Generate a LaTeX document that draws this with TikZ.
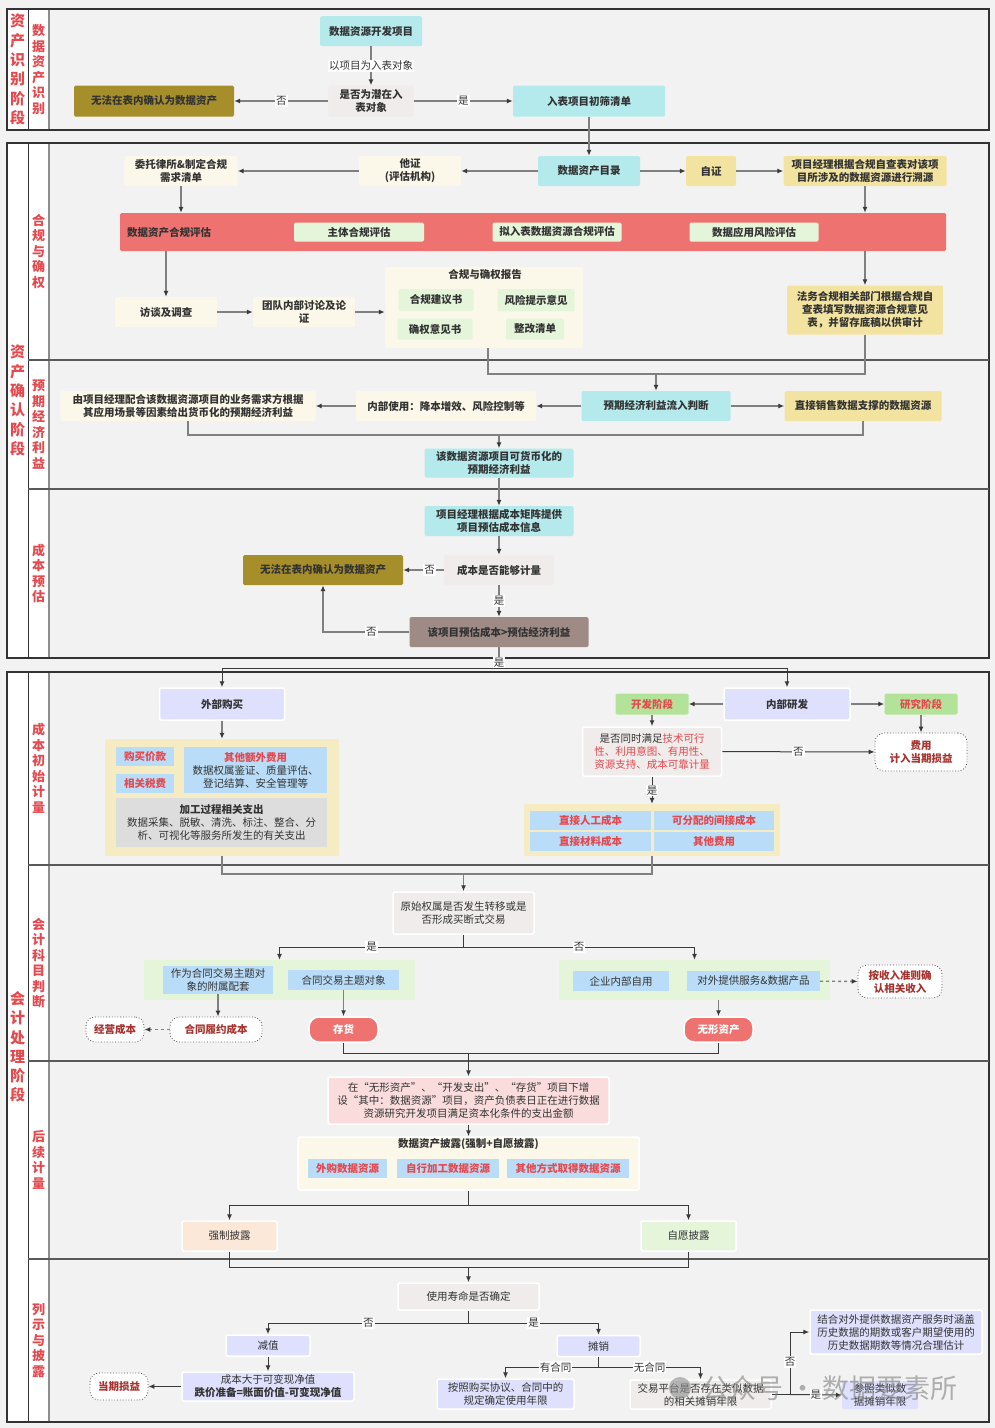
\documentclass[tikz,border=0pt]{standalone}
\usepackage{fontspec}
\setmainfont{Noto Sans CJK SC}
\usetikzlibrary{positioning,calc,arrows.meta}
\definecolor{BgGray}{HTML}{F2F2F2}
\definecolor{FrameDark}{HTML}{333333}
\definecolor{FrameGray}{HTML}{8C8C8C}
\definecolor{LaneLine}{HTML}{5A5A5A}
\definecolor{LaneRed}{HTML}{E5484D}
\definecolor{TxtDark}{HTML}{333333}
\definecolor{DarkRed}{HTML}{A8322D}
\definecolor{CyanBox}{HTML}{B4EAEC}
\definecolor{OliveBox}{HTML}{A68F2A}
\definecolor{DecBox}{HTML}{EFECEB}
\definecolor{CoralBox}{HTML}{EE7370}
\definecolor{GreenBox}{HTML}{E4F5DA}
\definecolor{CreamBox}{HTML}{FBF8EA}
\definecolor{YellowBox}{HTML}{F2E3A0}
\definecolor{TaupeBox}{HTML}{9E8B86}
\definecolor{LavBox}{HTML}{DEE0FD}
\definecolor{StageBox}{HTML}{B3E398}
\definecolor{CtnBox}{HTML}{F6ECC3}
\definecolor{BlueBox}{HTML}{B9DDF8}
\definecolor{GrayBox}{HTML}{DDDDDD}
\definecolor{PinkBox}{HTML}{FADCDC}
\definecolor{PeachBox}{HTML}{FBE8D8}
\definecolor{ArrGray}{HTML}{808080}
\definecolor{TipDark}{HTML}{3A3A3A}
\newcommand\ftxt{\fontsize{10.5}{13}\selectfont}
\newcommand\fbold{\fontsize{10.5}{13}\selectfont\bfseries}
\tikzset{bx/.style={rectangle,rounded corners=1.5pt,align=center,inner sep=2pt,text=TxtDark,font=\ftxt},
 sz/.style 2 args={minimum width=#1pt,minimum height=#2pt},
 wb/.style={draw=white,line width=1.5pt},
 bb/.style={font=\fbold},
 redtx/.style={text=LaneRed,font=\fbold},
 dotbx/.style={bx,rounded corners=9pt,fill=white,draw=black!70,dotted,line width=0.8pt,text=DarkRed,font=\fbold},
 pill/.style={bx,rounded corners=10pt,fill=CoralBox,draw=white,line width=1.5pt,text=white,font=\fbold},
 lbl/.style={fill=white,inner sep=1pt,text=TxtDark,font=\ftxt},
 ln/.style={draw=ArrGray,line width=1.4pt},
 arr/.style={ln,-{Latex[length=6pt,width=5pt,color=TipDark]}},
 lnd/.style={draw=TipDark,line width=1pt},
 arrd/.style={lnd,-{Latex[length=6pt,width=5pt,color=TipDark]}},
 stagelbl/.style={align=center,inner sep=0pt,text=LaneRed,font=\fontsize{15}{19.3}\selectfont\bfseries},
 lanelbl/.style={align=center,inner sep=0pt,text=LaneRed,font=\fontsize{13}{15.5}\selectfont\bfseries}}

\begin{document}
\begin{tikzpicture}[x=1pt,y=-1pt]
\fill[BgGray] (0,0) rectangle (995,1428);
\useasboundingbox (0,0) rectangle (995,1428);
% frames and lanes
\fill[white] (7,9) rectangle (49,130);
\fill[white] (7,143) rectangle (49,658);
\fill[white] (7,672) rectangle (49,1422);
\foreach \ya/\yb in {9/130,143/658,672/1422}{
  \draw[FrameDark,line width=1pt] (28,\ya) -- (28,\yb);
  \draw[FrameGray,line width=2pt] (49,\ya) -- (49,\yb);
  \draw[FrameDark,line width=2.2pt] (7,\ya) rectangle (989,\yb);
}
\foreach \y in {360,489,865,1061,1259}
  \draw[LaneLine,line width=2pt] (28,\y) -- (989,\y);
\node[stagelbl] (st1) at (17.5,69.5) {资\\产\\识\\别\\阶\\段};
\node[stagelbl] (st2) at (17.5,400.5) {资\\产\\确\\认\\阶\\段};
\node[stagelbl] (st3) at (17.5,1047) {会\\计\\处\\理\\阶\\段};
\node[lanelbl] (ln1) at (38.5,69.5) {数\\据\\资\\产\\识\\别};
\node[lanelbl] (ln2) at (38.5,251.5) {合\\规\\与\\确\\权};
\node[lanelbl] (ln3) at (38.5,424.5) {预\\期\\经\\济\\利\\益};
\node[lanelbl] (ln4) at (38.5,573.5) {成\\本\\预\\估};
\node[lanelbl] (ln5) at (38.5,768.5) {成\\本\\初\\始\\计\\量};
\node[lanelbl] (ln6) at (38.5,963) {会\\计\\科\\目\\判\\断};
\node[lanelbl] (ln7) at (38.5,1160) {后\\续\\计\\量};
\node[lanelbl] (ln8) at (38.5,1340.5) {列\\示\\与\\披\\露};

% identification
\node[bx,bb,fill=CyanBox,sz={102}{30}] (proj) at (371,31) {数据资源开发项目};
\node[bx,bb,fill=DecBox,sz={85}{31}] (pot) at (371,101) {是否为潜在入\\表对象};
\node[bx,bb,fill=OliveBox,sz={160}{31}] (no1) at (154,101) {无法在表内确认为数据资产};
\node[bx,bb,fill=CyanBox,sz={152}{31}] (init) at (589,101) {入表项目初筛清单};
\draw[arr] (proj) -- node[lbl]{以项目为入表对象} (pot);
\draw[arr] (pot) -- node[lbl]{否} (no1);
\draw[arr] (pot) -- node[lbl]{是} (init);

% compliance
\node[bx,bb,fill=CyanBox,sz={102}{30}] (cat) at (589,171) {数据资产目录};
\node[bx,bb,fill=YellowBox,sz={50}{30}] (self) at (711,171) {自证};
\node[bx,bb,fill=YellowBox,sz={163}{30}] (pm) at (865,171) {项目经理根据合规自查表对该项\\目所涉及的数据资源进行溯源};
\node[bx,bb,fill=CreamBox,sz={102}{30}] (other) at (410,171) {他证\\(评估机构)};
\node[bx,bb,fill=CreamBox,sz={113}{30}] (law) at (181,171) {委托律所\&制定合规\\需求清单};
\node[bx,fill=CoralBox,sz={826}{38}] (cmp) at (533,232) {};
\node[bx,bb,anchor=west,inner sep=0pt] (cmpt) at (127,233) {数据资产合规评估};
\node[bx,bb,fill=GreenBox,sz={130}{19}] (c1) at (359,232) {主体合规评估};
\node[bx,bb,fill=GreenBox,sz={129}{19}] (c2) at (557,232) {拟入表数据资源合规评估};
\node[bx,bb,fill=GreenBox,sz={129}{19}] (c3) at (754,232) {数据应用风险评估};
\node[bx,bb,fill=CreamBox,sz={102}{30}] (intv) at (166,312) {访谈及调查};
\node[bx,bb,fill=CreamBox,sz={102}{30}] (team) at (304,312) {团队内部讨论及论\\证};
\node[bx,fill=CreamBox,sz={198}{81}] (rpt) at (484,307.5) {};
\node[bx,bb,inner sep=0pt] (rptt) at (485,274) {合规与确权报告};
\node[bx,bb,fill=GreenBox,sz={75}{22}] (r1) at (436,300) {合规建议书};
\node[bx,bb,fill=GreenBox,sz={77}{22}] (r2) at (536,300) {风险提示意见};
\node[bx,bb,fill=GreenBox,sz={75}{21}] (r3) at (435,329) {确权意见书};
\node[bx,bb,fill=GreenBox,sz={58}{21}] (r4) at (535,329) {整改清单};
\node[bx,bb,fill=YellowBox,sz={156}{49}] (fw) at (865,310) {法务合规相关部门根据合规自\\查表填写数据资源合规意见\\表，并留存底稿以供审计};
\draw[arr] (init) -- (cat);
\draw[arr] (cat) -- (other);
\draw[arr] (other) -- (law);
\draw[arr] (cat) -- (self);
\draw[arr] (self) -- (pm);
\draw[arr] (law) -- (law|-cmp.north);
\draw[arr] (pm) -- (pm|-cmp.north);
\draw[arr] (cmp.south-|intv) -- (intv);
\draw[arr] (intv) -- (team);
\draw[arr] (team.east) -- (team.east-|rpt.west);
\draw[arr] (pm|-cmp.south) -- (fw);
\coordinate (sp0) at (656,374);
\draw[ln] (488,348) -- (488,374) -| (fw.south);

% benefit
\node[bx,bb,fill=CyanBox,sz={149}{30}] (jud) at (656,406) {预期经济利益流入判断};
\node[bx,bb,fill=YellowBox,sz={157}{30}] (sale) at (863,406) {直接销售数据支撑的数据资源};
\node[bx,bb,fill=CreamBox,sz={180}{30}] (inn) at (446,406) {内部使用：降本增效、风险控制等};
\node[bx,bb,fill=CreamBox,sz={255}{30}] (pmb) at (188,406) {由项目经理配合该数据资源项目的业务需求方根据\\其应用场景等因素给出货币化的预期经济利益};
\node[bx,bb,fill=CyanBox,sz={149}{29}] (mon) at (499,463) {该数据资源项目可货币化的\\预期经济利益};
\draw[arr] (sp0) -- (jud);
\draw[arr] (jud) -- (sale);
\draw[arr] (jud) -- (inn);
\draw[arr] (inn) -- (pmb);
\coordinate (sp1) at (499,435);
\draw[ln] (pmb.south) |- (sp1) -| (sale.south);
\draw[arr] (sp1) -- (mon);

% cost estimate
\node[bx,bb,fill=CyanBox,sz={149}{30}] (cinfo) at (499,521) {项目经理根据成本矩阵提供\\项目预估成本信息};
\node[bx,bb,fill=DecBox,sz={110}{30}] (cq) at (499,570) {成本是否能够计量};
\node[bx,bb,fill=OliveBox,sz={160}{30}] (no2) at (323,570) {无法在表内确认为数据资产};
\node[bx,bb,fill=TaupeBox,sz={179}{30}] (cmpv) at (499,632) {该项目预估成本>预估经济利益};
\draw[arr] (mon) -- (cinfo);
\draw[arr] (cinfo) -- (cq);
\draw[arr] (cq) -- node[lbl,pos=0.35]{否} (no2);
\draw[arr] (cq) -- node[lbl]{是} (cmpv);
\draw[arr] (cmpv.west) -| node[lbl,pos=0.22]{否} (no2.south);
\coordinate (sp2) at (499,668);
\draw[ln] (cmpv.south) -- node[lbl,pos=0.75]{是} (sp2);

% initial measurement
\node[bx,bb,fill=LavBox,wb,sz={125}{32}] (buy) at (222,704) {外部购买};
\node[bx,bb,fill=LavBox,wb,sz={126}{32}] (dev) at (787,704) {内部研发};
\node[bx,fill=StageBox,redtx,sz={73}{21}] (devst) at (652,704) {开发阶段};
\node[bx,fill=StageBox,redtx,sz={73}{21}] (resst) at (921,704) {研究阶段};
\draw[arrd] (sp2) -| (buy);
\draw[arrd] (sp2) -| (dev);
\draw[arr] (dev) -- (devst);
\draw[arr] (dev) -- (resst);
\node[bx,fill=CtnBox,sz={234}{117}] (ctn1) at (222,797.5) {};
\node[bx,fill=BlueBox,redtx,sz={58}{19},rounded corners=0pt] (pay) at (145,756.5) {购买价款};
\node[bx,fill=BlueBox,redtx,sz={58}{19},rounded corners=0pt] (tax) at (145,783.5) {相关税费};
\node[bx,fill=BlueBox,sz={143}{46},rounded corners=0pt] (extra) at (255.5,770) {{\color{LaneRed}\bfseries 其他额外费用}\\数据权属鉴证、质量评估、\\登记结算、安全管理等};
\node[bx,fill=GrayBox,sz={211}{49},rounded corners=0pt] (proc) at (221.5,822.5) {{\bfseries 加工过程相关支出}\\数据采集、脱敏、清洗、标注、整合、分\\析、可视化等服务所发生的有关支出};
\draw[arr] (buy) -- (ctn1);
\node[bx,fill=DecBox,wb,sz={139}{49}] (cond) at (652,751.5) {是否同时满足{\color{LaneRed}技术可行}\\{\color{LaneRed}性、利用意图、有用性、}\\{\color{LaneRed}资源支持、成本可靠计量}};
\node[dotbx,sz={92}{38}] (fee) at (921,752) {费用\\计入当期损益};
\draw[arr] (devst) -- (cond);
\draw[arr] (resst) -- (fee);
\draw[arrd] (cond) -- node[lbl]{否} (fee);
\node[bx,fill=CtnBox,sz={256}{52}] (ctn2) at (652,830) {};
\node[bx,fill=BlueBox,redtx,sz={121}{19},rounded corners=0pt] (k1) at (590.5,820.5) {直接人工成本};
\node[bx,fill=BlueBox,redtx,sz={120}{19},rounded corners=0pt] (k2) at (714,820.5) {可分配的间接成本};
\node[bx,fill=BlueBox,redtx,sz={121}{19},rounded corners=0pt] (k3) at (590.5,841.5) {直接材料成本};
\node[bx,fill=BlueBox,redtx,sz={120}{19},rounded corners=0pt] (k4) at (714,841.5) {其他费用};
\draw[arrd] (cond) -- node[lbl]{是} (ctn2);
\coordinate (sp3) at (463.5,874);
\draw[ln] (ctn1.south) |- (sp3) -| (ctn2.south);

% account judgement
\node[bx,fill=DecBox,wb,sz={141}{42}] (own) at (463.5,913) {原始权属是否发生转移或是\\否形成买断式交易};
\draw[arr] (sp3) -- (own);
\node[bx,fill=GreenBox,sz={271}{40},rounded corners=0pt] (gl) at (279.5,980) {};
\node[bx,fill=BlueBox,sz={110}{28},rounded corners=0pt] (acc) at (218,980) {作为合同交易主题对\\象的附属配套};
\node[bx,fill=BlueBox,sz={111}{20},rounded corners=0pt] (subj) at (343.5,980) {合同交易主题对象};
\node[bx,fill=GreenBox,sz={271}{40},rounded corners=0pt] (gr) at (694.5,980) {};
\node[bx,fill=BlueBox,sz={96}{20},rounded corners=0pt] (selfuse) at (621,981) {企业内部自用};
\node[bx,fill=BlueBox,sz={133}{20},rounded corners=0pt] (ext) at (753.5,981) {对外提供服务\&数据产品};
\coordinate (sp4) at (463.5,947);
\draw[lnd] (own) -- (sp4);
\draw[arrd] (sp4) -| node[lbl,pos=0.25]{是} (gl);
\draw[arrd] (sp4) -| node[lbl,pos=0.25]{否} (gr);
\node[dotbx,sz={84}{33}] (rev) at (900,981.5) {按收入准则确\\认相关收入};
\draw[arr,dashed] (ext) -- (rev);
\node[dotbx,sz={92}{25}] (perf) at (216,1029.5) {合同履约成本};
\node[dotbx,sz={58}{25}] (opc) at (115,1029.5) {经营成本};
\node[pill,sz={69}{25}] (inv) at (343.5,1029.5) {存货};
\node[pill,sz={69}{25}] (intg) at (718.5,1029.5) {无形资产};
\draw[arr] (acc) -- (acc|-perf.north);
\draw[arr,dashed] (perf) -- (opc);
\draw[arr] (subj) -- (inv);
\draw[arr] (gr.south-|intg) -- (intg);

% subsequent measurement
\node[bx,fill=PinkBox,wb,sz={281}{47}] (note) at (468.5,1100.5) {在“无形资产”、“开发支出”、“存货”项目下增\\设“其中：数据资源”项目，资产负债表日正在进行数据\\资源研究开发项目满足资本化条件的支出金额};
\coordinate (sp5) at (468.5,1053);
\draw[lnd] (inv.south) |- (sp5) -| (intg.south);
\draw[arrd] (sp5) -- (note);
\node[bx,fill=CreamBox,wb,sz={341}{53}] (disc) at (468.5,1163.5) {};
\node[bx,bb,inner sep=0pt] (disct) at (468.5,1144) {数据资产披露(强制+自愿披露)};
\node[bx,fill=BlueBox,redtx,sz={79}{19},rounded corners=0pt] (d1) at (347.5,1168.5) {外购数据资源};
\node[bx,fill=BlueBox,redtx,sz={102}{19},rounded corners=0pt] (d2) at (448,1168.5) {自行加工数据资源};
\node[bx,fill=BlueBox,redtx,sz={122}{19},rounded corners=0pt] (d3) at (568,1168.5) {其他方式取得数据资源};
\draw[arrd] (note) -- (disc);
\node[bx,fill=PeachBox,wb,sz={95}{30}] (force) at (229.5,1236) {强制披露};
\node[bx,fill=GreenBox,wb,sz={95}{30}] (vol) at (688.5,1236) {自愿披露};
\coordinate (sp6) at (468.5,1205);
\draw[lnd] (disc) -- (sp6);
\draw[arrd] (sp6) -| (force);
\draw[arrd] (sp6) -| (vol);

% presentation and disclosure
\node[bx,fill=DecBox,wb,sz={141}{27}] (life) at (468.5,1296.5) {使用寿命是否确定};
\coordinate (sp7) at (468.5,1267);
\draw[lnd] (force.south) |- (sp7) -| (vol.south);
\draw[arrd] (sp7) -- (life);
\node[bx,fill=LavBox,wb,sz={84}{21}] (imp) at (268,1345.5) {减值};
\node[bx,fill=LavBox,wb,sz={172}{29}] (cost) at (268,1386.5) {成本大于可变现净值\\{\bfseries 跌价准备=账面价值-可变现净值}};
\node[dotbx,sz={58}{27}] (pl) at (119,1386.5) {当期损益};
\node[bx,fill=LavBox,wb,sz={83}{21}] (amo) at (598.5,1346) {摊销};
\coordinate (sp8) at (468.5,1323);
\draw[lnd] (life) -- (sp8);
\draw[arrd] (sp8) -| node[lbl,pos=0.25]{否} (imp);
\draw[arrd] (sp8) -| node[lbl,pos=0.25]{是} (amo);
\draw[arrd] (imp) -- (cost);
\draw[arrd] (cost) -- (pl);
\node[bx,fill=LavBox,wb,sz={137}{30}] (ctr) at (505.5,1394) {按照购买协议、合同中的\\规定确定使用年限};
\node[bx,fill=DecBox,wb,sz={141}{29}] (plat) at (700.5,1394.5) {交易平台是否存在类似数据\\的相关摊销年限};
\coordinate (sp9) at (598.5,1367);
\draw[lnd] (amo) -- (sp9);
\draw[arrd] (sp9) -| node[lbl,pos=0.23]{有合同} (ctr);
\draw[arrd] (sp9) -| node[lbl,pos=0.25]{无合同} (plat);
\node[bx,fill=LavBox,wb,sz={172}{44}] (est) at (896,1332) {结合对外提供数据资产服务时涵盖\\历史数据的期数或客户期望使用的\\历史数据期数等情况合理估计};
\node[bx,fill=LavBox,sz={76}{28}] (sim) at (880,1395) {参照类似数\\据摊销年限};
\coordinate (sp10) at (790,1394.5);
\draw[lnd] (plat.east) -- (sp10);
\draw[arrd] (sp10) |- node[lbl,pos=0.26]{否} (est.west);
\draw[arrd] (sp10) -- node[lbl]{是} (sim.west);

% watermark
\fill[black!45,opacity=0.6] (680,1388) circle (11pt);
\node[text=black!50,opacity=0.6,font=\fontsize{27}{27}\selectfont,inner sep=0pt] (wm) at (830,1388) {公众号 · 数据要素所};
\end{tikzpicture}
\end{document}
